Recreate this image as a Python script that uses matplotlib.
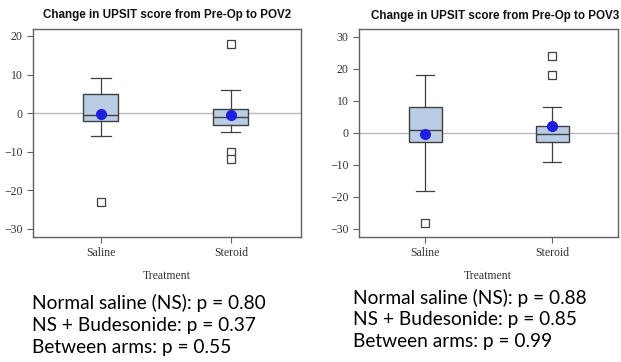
import matplotlib.pyplot as plt

# Box statistics (whisker low, Q1, median, Q3, whisker high, mean, outliers)
groups = ['Saline', 'Steroid']

pov2_whislo = [-6, -5]
pov2_q1 = [-2, -3]
pov2_med = [-0.5, -1]
pov2_q3 = [5, 1]
pov2_whishi = [9, 6]
pov2_mean = [-0.3, -0.6]
pov2_fliers = [[-23], [18, -10, -12]]

pov3_whislo = [-18, -9]
pov3_q1 = [-3, -3]
pov3_med = [1, -0.5]
pov3_q3 = [8, 2]
pov3_whishi = [18, 8]
pov3_mean = [-0.3, 2.2]
pov3_fliers = [[-28], [24, 18]]

pov2_ticks = [20, 10, 0, -10, -20, -30]
pov3_ticks = [30, 20, 10, 0, -10, -20, -30]

pov2_notes = ['Normal saline (NS): p = 0.80', 'NS + Budesonide: p = 0.37', 'Between arms: p = 0.55']
pov3_notes = ['Normal saline (NS): p = 0.88', 'NS + Budesonide: p = 0.85', 'Between arms: p = 0.99']

W, H = 621, 362
fig = plt.figure(figsize=(W / 100, H / 100), dpi=100)


def make_stats(lo, q1, med, q3, hi, mean, fliers):
    out = []
    for i, g in enumerate(groups):
        out.append(dict(label=g, whislo=lo[i], q1=q1[i], med=med[i], q3=q3[i],
                        whishi=hi[i], mean=mean[i], fliers=fliers[i]))
    return out


def draw_panel(rect, stats, ticks, ylim, xlim, width):
    ax = fig.add_axes(rect)
    ax.axhline(0, color='#b8b8b8', linewidth=1.0, zorder=0)
    ax.bxp(stats, positions=[1, 2], widths=width, patch_artist=True, showmeans=True,
           boxprops=dict(facecolor='#b9cde5', edgecolor='#404040', linewidth=1.0),
           medianprops=dict(color='#404040', linewidth=1.0),
           whiskerprops=dict(color='#404040', linewidth=0.9),
           capprops=dict(color='#404040', linewidth=0.9),
           capwidths=width * 0.55,
           meanprops=dict(marker='o', markerfacecolor='#1f1fe0', markeredgecolor='#1f1fe0', markersize=7),
           flierprops=dict(marker='s', markerfacecolor='white', markeredgecolor='#404040',
                           markersize=6, markeredgewidth=0.9))
    ax.set_xlim(*xlim)
    ax.set_ylim(*ylim)
    ax.set_yticks(ticks)
    ax.set_xticks([1, 2])
    ax.set_xticklabels(groups)
    for s in ax.spines.values():
        s.set_color('#606060')
        s.set_linewidth(1.0)
    ax.tick_params(axis='both', direction='out', length=4, color='#606060', width=0.8,
                   labelsize=8.5, labelcolor='#333333')
    for lab in ax.get_xticklabels() + ax.get_yticklabels():
        lab.set_family('Liberation Serif')
    return ax


ax1 = draw_panel([33 / W, 1 - 237 / H, 268 / W, 208 / H],
                 make_stats(pov2_whislo, pov2_q1, pov2_med, pov2_q3, pov2_whishi, pov2_mean, pov2_fliers),
                 pov2_ticks, (-32.1, 21.8), (0.477, 2.54), 0.27)
ax2 = draw_panel([359 / W, 1 - 237 / H, 259 / W, 208 / H],
                 make_stats(pov3_whislo, pov3_q1, pov3_med, pov3_q3, pov3_whishi, pov3_mean, pov3_fliers),
                 pov3_ticks, (-32.5, 32.4), (0.476, 2.52), 0.26)

fig.text(167 / W, 1 - 15 / H, 'Change in UPSIT score from Pre-Op to POV2', ha='center', va='center',
         fontsize=8.4, fontweight='bold', family='Liberation Sans', color='#111111')
fig.text(619 / W, 1 - 16 / H, 'Change in UPSIT score from Pre-Op to POV3', ha='right', va='center',
         fontsize=8.4, fontweight='bold', family='Liberation Sans', color='#111111')
fig.text(167 / W, 1 - 276 / H, 'Treatment', ha='center', va='center', fontsize=8.5,
         family='Liberation Serif', color='#333333')
fig.text(488 / W, 1 - 276 / H, 'Treatment', ha='center', va='center', fontsize=8.5,
         family='Liberation Serif', color='#333333')

for i, line in enumerate(pov2_notes):
    fig.text(32 / W, 1 - (303 + 22 * i) / H, line, ha='left', va='center', fontsize=13.8,
             family='Lato', color='black')
for i, line in enumerate(pov3_notes):
    fig.text(353 / W, 1 - (298 + 22 * i) / H, line, ha='left', va='center', fontsize=13.8,
             family='Lato', color='black')

fig.savefig('out.png', dpi=100)
